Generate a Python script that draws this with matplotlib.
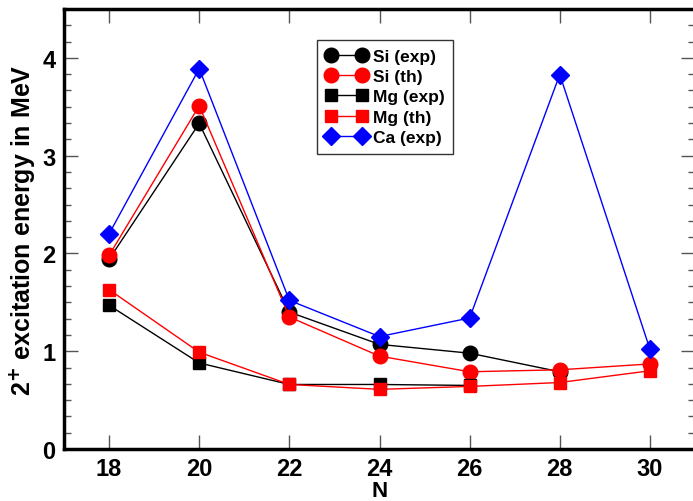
import matplotlib
matplotlib.use('Agg')
import matplotlib.pyplot as plt
from matplotlib.ticker import MultipleLocator, AutoMinorLocator

plt.rcParams['font.family'] = ['Liberation Sans', 'DejaVu Sans']
plt.rcParams['font.weight'] = 'bold'

# neutron number and 2+ energies (MeV)
n_si_exp = [18, 20, 22, 24, 26, 28]
e_si_exp = [1.94, 3.33, 1.40, 1.07, 0.98, 0.79]

n_si_th = [18, 20, 22, 24, 26, 28, 30]
e_si_th = [1.98, 3.51, 1.35, 0.95, 0.79, 0.81, 0.87]

n_mg_exp = [18, 20, 22, 24, 26]
e_mg_exp = [1.47, 0.88, 0.66, 0.66, 0.65]

n_mg_th = [18, 20, 22, 24, 26, 28, 30]
e_mg_th = [1.63, 0.99, 0.66, 0.61, 0.64, 0.68, 0.80]

n_ca_exp = [18, 20, 22, 24, 26, 28, 30]
e_ca_exp = [2.20, 3.89, 1.52, 1.15, 1.34, 3.83, 1.02]

fig = plt.figure(figsize=(6.93, 5.02), dpi=100)
ax = fig.add_axes([64 / 693, 52 / 502, 631 / 693, 440 / 502])

ax.plot(n_si_exp, e_si_exp, '-o', color='black', lw=1, ms=10.5, label='Si (exp)')
ax.plot(n_si_th, e_si_th, '-o', color='red', lw=1, ms=10.5, label='Si (th)')
ax.plot(n_mg_exp, e_mg_exp, '-s', color='black', lw=1, ms=8.5, label='Mg (exp)')
ax.plot(n_mg_th, e_mg_th, '-s', color='red', lw=1, ms=8.5, label='Mg (th)')
ax.plot(n_ca_exp, e_ca_exp, '-D', color='blue', lw=1, ms=9, label='Ca (exp)')

ax.set_xlim(17, 31)
ax.set_ylim(0, 4.5)
ax.xaxis.set_major_locator(MultipleLocator(2))
ax.yaxis.set_major_locator(MultipleLocator(1))
ax.yaxis.set_minor_locator(AutoMinorLocator(6))

ax.tick_params(which='both', direction='in', top=True, right=True, color='#555555')
ax.tick_params(which='major', length=10, width=1, labelsize=17, pad=6)
ax.tick_params(which='minor', length=5, width=1)
for lab in ax.get_xticklabels() + ax.get_yticklabels():
    lab.set_fontweight('bold')
for s in ax.spines.values():
    s.set_linewidth(2.5)

ax.set_xlabel('N', fontsize=16, fontweight='bold', labelpad=0)
ax.set_ylabel(r'2$^{\mathbf{+}}$ excitation energy in MeV', fontsize=18,
              fontweight='bold', labelpad=4)

leg = ax.legend(loc='upper left', bbox_to_anchor=(0.401, 0.93), numpoints=2,
                frameon=True, fancybox=False, handlelength=2.4,
                handletextpad=0.3, borderpad=0.5, labelspacing=0.3,
                borderaxespad=0, prop={'weight': 'bold', 'size': 12.5})
leg.get_frame().set_edgecolor('black')
leg.get_frame().set_linewidth(1)

fig.savefig('out.png', dpi=100)
